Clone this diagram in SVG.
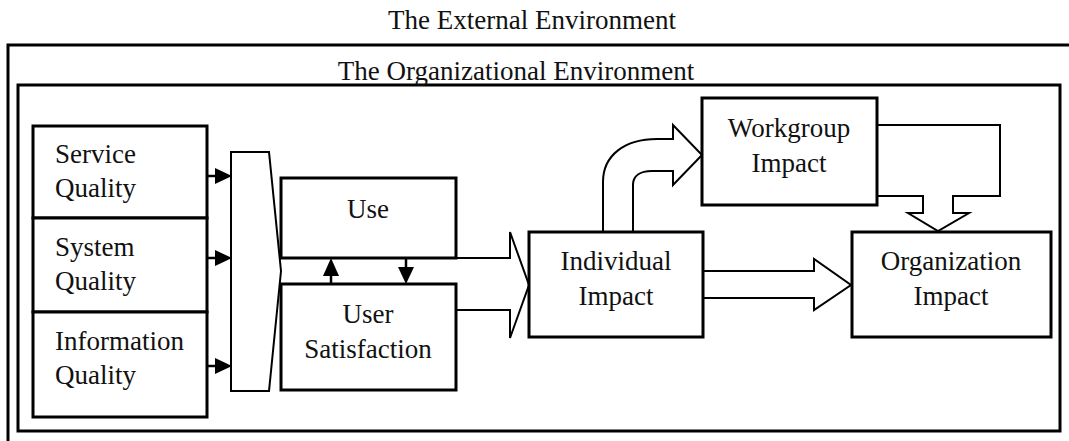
<svg xmlns="http://www.w3.org/2000/svg" width="1069" height="441" viewBox="0 0 1069 441">
<style>
text{font-family:"Liberation Serif","Times New Roman",serif;font-size:27px;fill:#111}
.c{text-anchor:middle}
.box{fill:#fff;stroke:#000;stroke-width:3}
.env{fill:none;stroke:#000;stroke-width:3}
.ar{fill:#fff;stroke:#000;stroke-width:2;stroke-linejoin:miter}
.ln{fill:none;stroke:#000;stroke-width:2.5}
.hd{fill:#000;stroke:none}
</style>
<rect width="1069" height="441" fill="#fff"/>
<g id="external-environment">
<path class="env" d="M1070,45 H8 V442"/>
<text class="c" x="532" y="29">The External Environment</text>
</g>
<g id="organizational-environment">
<rect class="env" x="18" y="85" width="1042" height="346"/>
<text class="c" x="516" y="80">The Organizational Environment</text>
</g>
<g id="connectors">
<path class="ln" d="M207,176 H216"/><path class="hd" d="M215,168 L232,176 L215,184 Z"/>
<path class="ln" d="M207,258 H216"/><path class="hd" d="M215,250 L232,258 L215,266 Z"/>
<path class="ln" d="M207,366 H216"/><path class="hd" d="M215,358 L232,366 L215,374 Z"/>
<path class="ar" d="M231,152 H269 L281,271 L269,391 H231 Z"/>
<path class="ar" d="M456,258 H510 V232 L529,285 L510,338 V310 H456"/>
<path class="ln" d="M331,284 V274"/><path class="hd" d="M323,276 L331,258 L339,276 Z"/>
<path class="ln" d="M406,258 V268"/><path class="hd" d="M398,267 L406,284 L414,267 Z"/>
<path class="ar" d="M703,271 H814 V259 L851,285 L814,310 V298 H703"/>
<path class="ar" d="M603,232 V182 C603,155 625,139 657,139 H673 V125 L702,155 L673,185 V171 H652 C640,171 633,176 633,185 V232"/>
<path class="ar" d="M877,125 H1000 V196 H953 V213 H969 L938,231 L908,213 H923 V196 H877"/>
</g>
<g id="service-quality">
<rect class="box" x="33" y="126" width="174" height="92"/>
<text x="55" y="163">Service</text><text x="55" y="197">Quality</text>
</g>
<g id="system-quality">
<rect class="box" x="33" y="218" width="174" height="94"/>
<text x="55" y="256">System</text><text x="55" y="290">Quality</text>
</g>
<g id="information-quality">
<rect class="box" x="33" y="312" width="174" height="105"/>
<text x="55" y="350">Information</text><text x="55" y="384">Quality</text>
</g>
<g id="use">
<rect class="box" x="281" y="178" width="175" height="80"/>
<text class="c" x="368" y="218">Use</text>
</g>
<g id="user-satisfaction">
<rect class="box" x="281" y="284" width="175" height="106"/>
<text class="c" x="368" y="323">User</text><text class="c" x="368" y="358">Satisfaction</text>
</g>
<g id="individual-impact">
<rect class="box" x="529" y="232" width="174" height="105"/>
<text class="c" x="616" y="270">Individual</text><text class="c" x="616" y="305">Impact</text>
</g>
<g id="workgroup-impact">
<rect class="box" x="702" y="98" width="175" height="107"/>
<text class="c" x="789" y="137">Workgroup</text><text class="c" x="789" y="172">Impact</text>
</g>
<g id="organization-impact">
<rect class="box" x="852" y="232" width="199" height="105"/>
<text class="c" x="951" y="270">Organization</text><text class="c" x="951" y="305">Impact</text>
</g>
</svg>
